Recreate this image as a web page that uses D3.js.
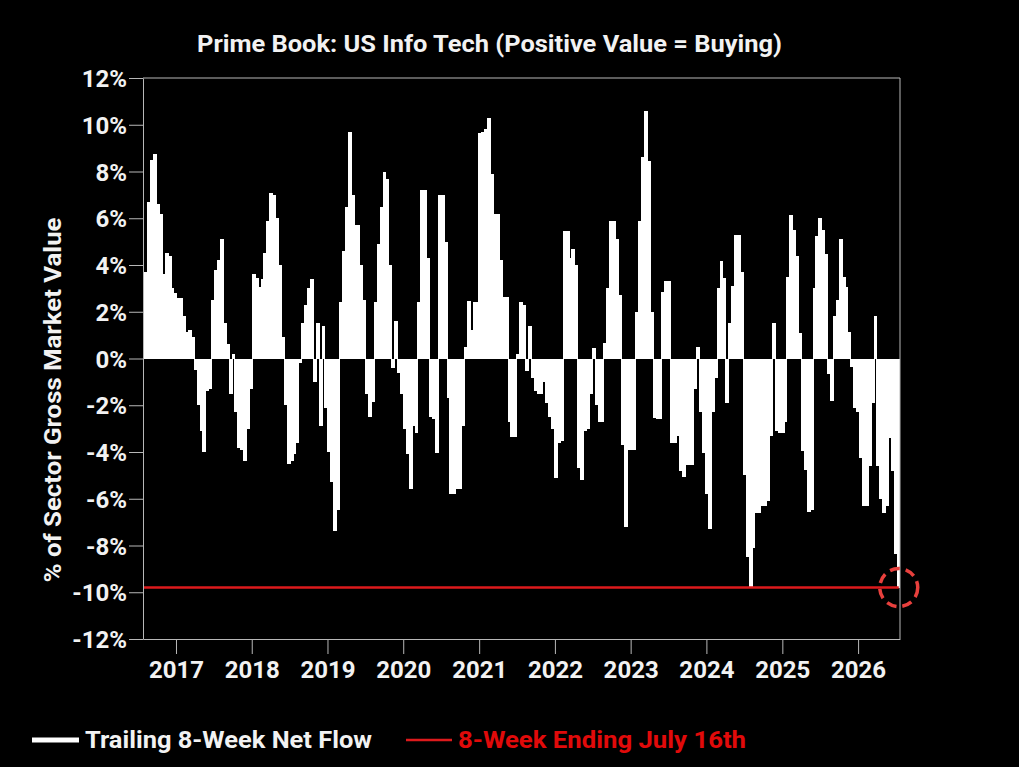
<!DOCTYPE html>
<html>
<head>
<meta charset="utf-8">
<script src="https://cdnjs.cloudflare.com/ajax/libs/d3/7.8.5/d3.min.js"></script>
<style>
  html, body { margin: 0; padding: 0; background: #000; }
  #chart-container { width: 1019px; height: 767px; }
  text { font-family: Roboto, "Noto Sans", sans-serif; font-weight: 700; fill: #f2f2f2; }
</style>
</head>
<body>
<div id="chart-container"></div>
<script>
(function() {
  'use strict';

// values, one every two weeks, last one is the week ending July 16th
const endDate = new Date(2026, 6, 16);
const stepDays = 14;

const flow2016 = [3.7];
const flowA = [6.7, 8.5, 8.75, 6.6, 6.2, 3.6, 4.5, 4.4, 3.0, 2.8, 2.6, 2.6, 1.8, 1.15, 1.2, 0.9, -0.5, -2.0, -3.1, -4.0,
               -1.4, -1.3, 2.5, 3.8, 4.2, 5.1, 1.5, 0.6, -1.5, 0.2, -2.3, -3.85, -3.9, -4.4, -3.0, -1.3, 3.6, 3.45, 3.05, 3.4,
               4.5, 5.9, 7.1];
const flowB = [7.0, 6.0, 4.0, 0.9, -2.0, -4.5, -4.4, -4.1, -3.6, -0.2, 1.5, 2.3, 3.0, 3.4, -1.0, 1.5, -2.9, 1.4, -2.1, -4.0,
               -5.3, -7.4, -6.5, 2.4, 4.6, 6.5, 9.7, 7.0, 5.7, 5.7, 4.0, 2.5, -1.5, -2.5, -1.85, 2.4, 4.9, 6.5, 8.0, 7.7,
               4.0, -0.4, 1.6];
const flowC = [-0.6, -1.5, -3.0, -4.1, -5.6, -2.9, -3.2, 2.4, 7.2, 7.2, 4.3, -2.5, -2.6, -4.05, 7.0, 7.0, 5.0, -1.7, -5.8, -5.8,
               -5.6, -5.6, -2.9, 0.5, 2.45, 1.2, 2.4, 2.4, 9.65, 9.7, 9.8, 10.3, 7.9, 6.2, 6.2, 4.2, 2.65, 2.65, -2.7, -3.35,
               -3.35, 0.2, 2.4];
const flowD = [2.3, -0.55, 1.4, -0.85, -1.4, -1.5, -1.5, -1.0, -1.9, -2.5, -3.0, -5.1, -3.6, -3.55, 5.45, 5.45, 4.3, 4.7, 4.0, -4.7,
               -5.2, -3.1, -3.0, -1.5, 0.45, -2.0, -2.7, -2.7, 0.65, 3.0, 5.9, 5.9, 5.1, 2.7, -3.7, -7.2, -3.9, -3.9, -3.9, 2.0,
               5.9, 8.6, 10.6];
const flowE = [8.45, 2.0, -2.55, -2.6, -2.6, 2.85, 3.3, 3.3, -3.6, -3.6, -3.3, -4.8, -5.05, -4.55, -4.55, -4.55, -1.3, 0.5, -2.3, -4.05,
               -5.8, -7.3, -2.3, -0.85, 3.0, 4.15, 3.45, -1.9, 1.5, 3.1, 5.3, 5.3, 3.7, -5.0, -8.5, -9.8, -8.1, -6.6, -6.6, -6.3,
               -6.3, -6.1, -3.3];
const flowF = [1.5, -3.1, -3.2, -3.2, -2.7, 3.5, 6.15, 5.5, 4.4, 1.1, -3.95, -4.75, -6.55, -6.5, 3.0, 5.25, 6.0, 5.5, 4.45, -0.65,
               -1.8, 1.8, 2.5, 5.1, 3.5, 3.05, 1.15, -0.35, -2.1, -2.3, -4.25, -6.3, -6.3, -4.6, -1.9, 1.8, -4.6, -6.0, -6.6, -6.3,
               -3.4, -4.8, -8.35, -9.8];

const yTicks = [-12, -10, -8, -6, -4, -2, 0, 2, 4, 6, 8, 10, 12];
const yearTicks = [2017, 2018, 2019, 2020, 2021, 2022, 2023, 2024, 2025, 2026];

const TITLE = 'Prime Book: US Info Tech (Positive Value = Buying)';
const Y_LABEL = '% of Sector Gross Market Value';
const SERIES_NAME = 'Trailing 8-Week Net Flow';
const LATEST_NAME = '8-Week Ending July 16th';

const chart = '#chart-container';

const W = 1019;
const H = 767;
const M = { left: 143, right: 900, top: 78, bottom: 639 };
const RED = '#dd1a1c';
const AXIS = '#b8b8b8';

const flows = [].concat(flow2016, flowA, flowB, flowC, flowD, flowE, flowF);
const n = flows.length;
const dataset = flows.map((v, i) => [d3.timeDay.offset(endDate, -(n - 1 - i) * stepDays), v]);
const latest = flows[n - 1];

const xScale = d3.scaleTime()
                .domain([new Date(2016, 6, 26), new Date(2026, 6, 22)])
                .range([M.left, M.right]);

const yScale = d3.scaleLinear()
                .domain([-12, 12])
                .range([M.bottom, M.top]);

const svg = d3.select(chart)
              .append('svg')
                .attr('width', W)
                .attr('height', H);

svg.append('rect')
  .attr('width', W)
  .attr('height', H)
  .attr('fill', '#000');

svg.append('defs')
  .append('clipPath')
    .attr('id', 'plot-clip')
  .append('rect')
    .attr('x', M.left)
    .attr('y', M.top)
    .attr('width', M.right - M.left)
    .attr('height', M.bottom - M.top);

// bars, a bit wider than the step so that they join up
const barW = xScale(d3.timeDay.offset(endDate, stepDays)) - xScale(endDate) + 1;

svg.append('g')
  .attr('clip-path', 'url(#plot-clip)')
  .selectAll('rect')
  .data(dataset)
  .enter()
  .append('rect')
    .attr('class', 'bar')
    .attr('x', (d) => xScale(d[0]) - barW / 2)
    .attr('y', (d) => yScale(Math.max(0, d[1])))
    .attr('width', barW)
    .attr('height', (d) => Math.abs(yScale(d[1]) - yScale(0)))
    .attr('fill', '#fff')
    .attr('shape-rendering', 'crispEdges');

// latest level line
svg.append('line')
  .attr('x1', M.left)
  .attr('x2', xScale(endDate))
  .attr('y1', yScale(latest))
  .attr('y2', yScale(latest))
  .attr('stroke', RED)
  .attr('stroke-width', 2.5);

// frame
const xAxis = d3.axisBottom(xScale)
                .tickValues(yearTicks.map((y) => new Date(y, 0, 1)))
                .tickFormat(d3.timeFormat('%Y'))
                .tickSize(15)
                .tickSizeOuter(0)
                .tickPadding(6);
const yAxis = d3.axisLeft(yScale)
                .tickValues(yTicks)
                .tickFormat((d) => d + '%')
                .tickSize(14)
                .tickSizeOuter(0)
                .tickPadding(2);

const gx = svg.append('g')
  .attr('id', 'x-axis')
  .attr('transform', `translate(0, ${M.bottom})`)
  .call(xAxis);

const gy = svg.append('g')
  .attr('id', 'y-axis')
  .attr('transform', `translate(${M.left}, 0)`)
  .call(yAxis);

[gx, gy].forEach((g) => {
  g.select('.domain').attr('stroke', AXIS);
  g.selectAll('.tick line').attr('stroke', AXIS);
  g.selectAll('.tick text')
    .attr('fill', '#f2f2f2')
    .style('font-size', '24px');
});
gx.selectAll('.tick text').attr('dy', '0.75em');
gy.selectAll('.tick text').attr('dy', '0.36em');

svg.append('path')
  .attr('d', `M${M.left},${M.top}H${M.right}V${M.bottom}`)
  .attr('fill', 'none')
  .attr('stroke', AXIS);

// circle round the latest value
svg.append('circle')
  .attr('cx', xScale(endDate))
  .attr('cy', yScale(latest))
  .attr('r', 19)
  .attr('fill', 'none')
  .attr('stroke', '#e8403d')
  .attr('stroke-width', 3.5)
  .attr('stroke-dasharray', '10 6');

// texts
svg.append('text')
  .attr('x', 489.5)
  .attr('y', 52)
  .attr('text-anchor', 'middle')
  .attr('textLength', 585)
  .attr('lengthAdjust', 'spacingAndGlyphs')
  .style('font-size', '24px')
  .text(TITLE);

svg.append('text')
  .attr('transform', 'translate(61, 400) rotate(-90)')
  .attr('text-anchor', 'middle')
  .attr('textLength', 365)
  .attr('lengthAdjust', 'spacingAndGlyphs')
  .style('font-size', '24px')
  .text(Y_LABEL);

// legend
const legend = svg.append('g').attr('id', 'legend');

legend.append('line')
  .attr('x1', 32).attr('x2', 79)
  .attr('y1', 740).attr('y2', 740)
  .attr('stroke', '#fff')
  .attr('stroke-width', 5);

legend.append('text')
  .attr('x', 85)
  .attr('y', 748)
  .attr('textLength', 287)
  .attr('lengthAdjust', 'spacingAndGlyphs')
  .style('font-size', '24px')
  .text(SERIES_NAME);

legend.append('line')
  .attr('x1', 406).attr('x2', 452)
  .attr('y1', 740).attr('y2', 740)
  .attr('stroke', RED)
  .attr('stroke-width', 2.5);

legend.append('text')
  .attr('x', 458)
  .attr('y', 748)
  .attr('textLength', 288)
  .attr('lengthAdjust', 'spacingAndGlyphs')
  .style('font-size', '24px')
  .style('fill', '#e10a0a')
  .text(LATEST_NAME);

})()
</script>
</body>
</html>
